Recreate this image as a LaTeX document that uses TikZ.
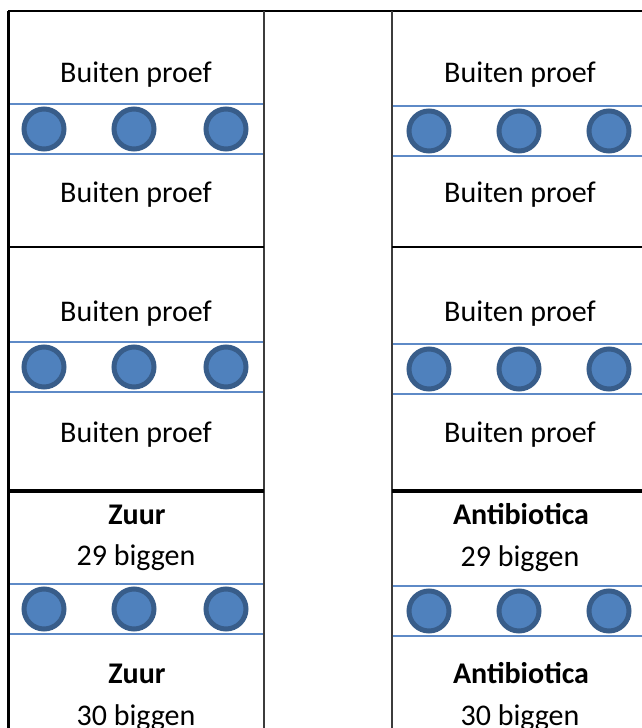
\documentclass[tikz,border=0pt]{standalone}
\usepackage{fontspec}
\setmainfont{Carlito}
\definecolor{pigfill}{HTML}{4F81BD}
\definecolor{pigline}{HTML}{385D8A}
\definecolor{railblue}{HTML}{5E8AC7}
\definecolor{pengray}{HTML}{3C3C3C}

\begin{document}
\begin{tikzpicture}[x=1pt,y=-1pt,
  lbl/.style={font=\fontsize{30}{36}\selectfont,anchor=base,inner sep=0pt},
  hdr/.style={font=\fontsize{30}{36}\selectfont\bfseries,anchor=base,inner sep=0pt},
  pig/.style={circle,draw=pigline,fill=pigfill,line width=5pt,minimum size=40pt,inner sep=0pt},
  rail/.style={draw=railblue,line width=1.5pt},
  wall/.style={draw=black,line width=#1},
  gap/.style={draw=pengray,line width=2pt}
]
\useasboundingbox (0,0) rectangle (642,728);

% rails with the three pigs, per column and block
\foreach \col/\xl/\xr/\xa/\xb/\xc/\dy in {L/8/264/44/134/226/0, R/392/648/429/519/609/2}{
  \foreach \blk/\ya/\yb in {1/104/154, 2/342/392, 3/584/634}{
    \draw[rail] (\xl,\ya+\dy) -- (\xr,\ya+\dy);
    \draw[rail] (\xl,\yb+\dy) -- (\xr,\yb+\dy);
    \foreach \px [count=\i] in {\xa,\xb,\xc}
      \node[pig] (pig-\col-\blk-\i) at (\px,{(\ya+\yb)/2+\dy}) {};
  }
}

% outer walls and pen dividers
\draw[wall=2pt] (8,11) -- (648,11);
\draw[wall=3pt] (8,11) -- (8,740);
\draw[gap] (264,11) -- (264,740);
\draw[gap] (392,11) -- (392,740);
\draw[wall=2.5pt] (8,247) -- (264,247);
\draw[wall=2.5pt] (392,247) -- (648,247);
\draw[wall=4.5pt] (8,491) -- (264,491);
\draw[wall=4.5pt] (392,491) -- (648,491);

% labels
\foreach \blk/\ya/\yb in {1/82/202, 2/321/442}{
  \node[lbl] (buiten-L-\blk-a) at (136,\ya) {Buiten proef};
  \node[lbl] (buiten-L-\blk-b) at (136,\yb) {Buiten proef};
  \node[lbl] (buiten-R-\blk-a) at (520,\ya) {Buiten proef};
  \node[lbl] (buiten-R-\blk-b) at (520,\yb) {Buiten proef};
}
\node[hdr] (zuur-a) at (137,524) {Zuur};
\node[lbl] (zuur-a-n) at (136,565) {29 biggen};
\node[hdr] (zuur-b) at (137,683) {Zuur};
\node[lbl] (zuur-b-n) at (136,725) {30 biggen};
\node[hdr] (anti-a) at (521,524) {Antibiotica};
\node[lbl] (anti-a-n) at (520,566) {29 biggen};
\node[hdr] (anti-b) at (521,683) {Antibiotica};
\node[lbl] (anti-b-n) at (520,725) {30 biggen};
\end{tikzpicture}
\end{document}
